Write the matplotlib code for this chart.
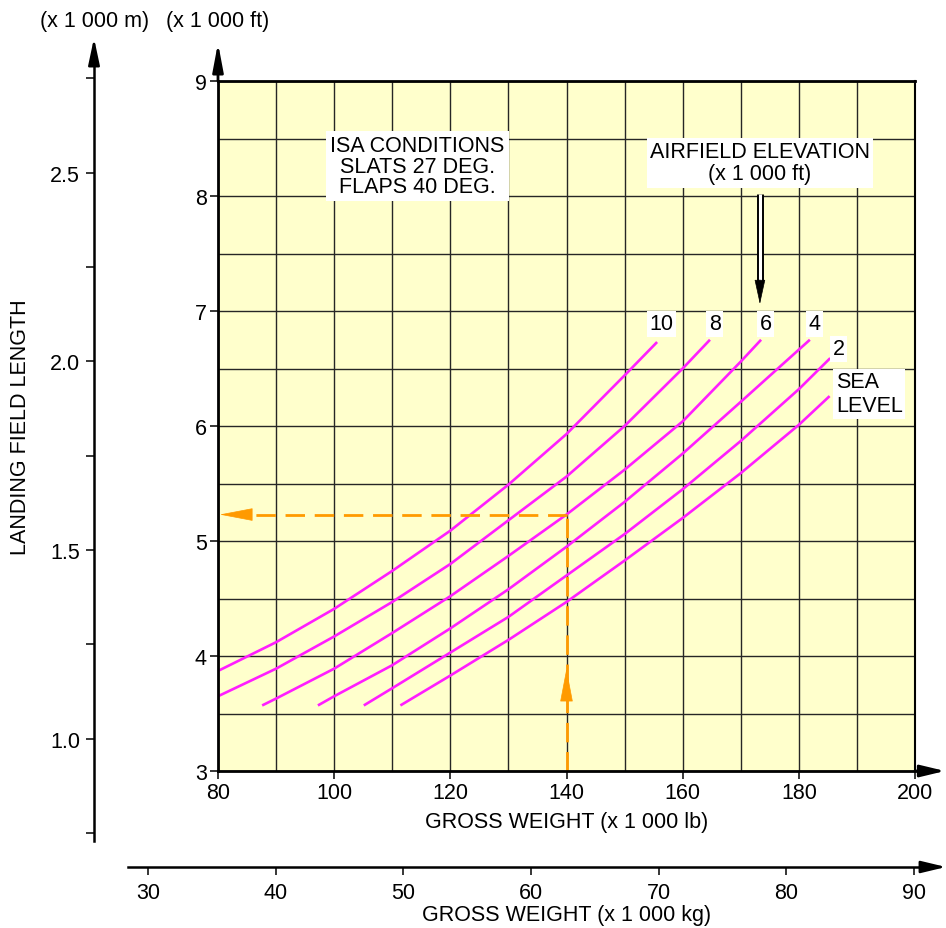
import numpy as np
import matplotlib
matplotlib.use("Agg")
import matplotlib.pyplot as plt

plt.rcParams['font.family'] = ['Liberation Sans', 'DejaVu Sans']
plt.rcParams['font.size'] = 15.5

# gross weight (x 1 000 lb) vs landing field length (x 1 000 ft)
w_10 = [80, 90, 100, 110, 120, 130, 140, 150, 155.6]
l_10 = [3.87, 4.12, 4.41, 4.74, 5.09, 5.49, 5.93, 6.44, 6.73]
w_8 = [80, 90, 100, 110, 120, 130, 140, 150, 160, 164.7]
l_8 = [3.65, 3.89, 4.17, 4.47, 4.80, 5.18, 5.56, 6.00, 6.50, 6.75]
w_6 = [87.6, 90, 100, 110, 120, 130, 140, 150, 160, 170, 173.5]
l_6 = [3.57, 3.63, 3.89, 4.20, 4.52, 4.87, 5.23, 5.62, 6.04, 6.56, 6.75]
w_4 = [97.2, 100, 110, 120, 130, 140, 150, 160, 170, 181.9]
l_4 = [3.57, 3.65, 3.92, 4.24, 4.58, 4.95, 5.34, 5.76, 6.21, 6.75]
w_2 = [105.1, 110, 120, 130, 140, 150, 160, 170, 180, 185.4]
l_2 = [3.57, 3.72, 4.03, 4.34, 4.70, 5.06, 5.45, 5.87, 6.32, 6.59]
w_sl = [111.4, 120, 130, 140, 150, 160, 170, 180, 185.3]
l_sl = [3.57, 3.83, 4.14, 4.47, 4.83, 5.20, 5.59, 6.01, 6.26]

curves = [(w_10, l_10, "10"), (w_8, l_8, "8"), (w_6, l_6, "6"),
          (w_4, l_4, "4"), (w_2, l_2, "2"), (w_sl, l_sl, "SEA\nLEVEL")]

# worked example (orange)
ex_weight = 140
ex_length = 5.23

lb_ticks = [80, 100, 120, 140, 160, 180, 200]
ft_ticks = [3, 4, 5, 6, 7, 8, 9]
m_ticks = [1.0, 1.5, 2.0, 2.5]
m_minor = [0.75, 1.25, 1.75, 2.25, 2.75]
kg_ticks = [30, 40, 50, 60, 70, 80, 90]
FT_TO_M = 0.3048

W, H = 946, 929
MAGENTA = '#FF1EFF'
ORANGE = '#FF9A00'
YELLOW = '#FFFFCC'


def box(l, t, r, b):
    return [l / W, 1 - b / H, (r - l) / W, (b - t) / H]


def head(axx, p0, p1, coords, color='black', hl=1.7, hw=0.32, lw=1.8):
    axx.annotate('', xy=p1, xytext=p0, xycoords=coords, textcoords=coords,
                 annotation_clip=False,
                 arrowprops=dict(arrowstyle=f'-|>,head_length={hl},head_width={hw}',
                                 color=color, lw=lw, shrinkA=0, shrinkB=0,
                                 mutation_scale=10))


fig = plt.figure(figsize=(W / 100, H / 100), dpi=100)

# main chart
top, bot = 82, 772
ax = fig.add_axes(box(218, top, 915, bot))
ax.set_xlim(80, 200)
ax.set_ylim(3, 9)
ax.set_facecolor(YELLOW)
ax.set_xticks(lb_ticks)
ax.set_xticks(np.arange(80, 201, 10), minor=True)
ax.set_yticks(ft_ticks)
ax.set_yticks(np.arange(3, 9.01, 0.5), minor=True)
ax.set_axisbelow(True)
ax.grid(which='both', color='#262626', lw=1.0)
ax.tick_params(which='minor', length=0)
ax.tick_params(which='major', length=6, width=1.1, pad=2, labelsize=15.5)
for s in ['left', 'bottom', 'top']:
    ax.spines[s].set_linewidth(2.0)
ax.spines['right'].set_linewidth(1.5)

for w, l, name in curves:
    ax.plot(w, l, color=MAGENTA, lw=1.9, solid_capstyle='butt')

# curve labels
lbl = dict(ha='center', va='center',
           bbox=dict(boxstyle='square,pad=0.12', fc='white', ec='none'))
for w, l, name in curves[:4]:
    ax.text(w[-1] + 0.8, 6.89, name, **lbl)
ax.text(w_2[-1] + 1.5, l_2[-1] + 0.08, "2", **lbl)
ax.text(w_sl[-1] + 1.1, l_sl[-1] + 0.02, "SEA\nLEVEL", ha='left', va='center',
        linespacing=1.2,
        bbox=dict(boxstyle='square,pad=0.12', fc='white', ec='none'))

ax.text(114.3, 8.26, "ISA CONDITIONS\nSLATS 27 DEG.\nFLAPS 40 DEG.",
        ha='center', va='center', linespacing=0.95,
        bbox=dict(boxstyle='square,pad=0.2', fc='white', ec='none'))
ax.text(173.3, 8.29, "AIRFIELD ELEVATION\n(x 1 000 ft)",
        ha='center', va='center', linespacing=1.1,
        bbox=dict(boxstyle='square,pad=0.15', fc='white', ec='none'))

# elevation arrow: hollow shaft, black head
ax.plot([173.3, 173.3], [8.02, 7.25], color='black', lw=5.0, solid_capstyle='butt')
ax.plot([173.3, 173.3], [8.015, 7.24], color='white', lw=2.2, solid_capstyle='butt')
head(ax, (173.3, 7.27), (173.3, 7.06), 'data', hl=1.6, hw=0.35, lw=0.5)

# worked example
dash = dict(color=ORANGE, lw=2.0, dashes=(7, 3.5))
ax.plot([ex_weight, ex_weight], [3, ex_length], **dash)
ax.plot([ex_weight, 85], [ex_length, ex_length], **dash)
head(ax, (ex_weight, 3.62), (ex_weight, 3.89), 'data', color=ORANGE,
     hl=2.2, hw=0.42, lw=0.5)
head(ax, (85.4, ex_length), (80.3, ex_length), 'data', color=ORANGE,
     hl=2.2, hw=0.42, lw=0.5)

# axis arrows
head(ax, (0, 1), (0, 1 + 38 / 690), 'axes fraction', lw=2.0, hl=1.7, hw=0.32)
head(ax, (1, 0), (1 + 30 / 697, 0), 'axes fraction', lw=2.0, hl=1.5, hw=0.36)


def ft_at(py):
    return 3 + (bot - py) / (bot - top) * 6


# metre scale
m_top, m_bot = 65, 842
ax_m = fig.add_axes(box(94, m_top, 95, m_bot))
ax_m.set_ylim(ft_at(m_bot) * FT_TO_M, ft_at(m_top) * FT_TO_M)
ax_m.patch.set_visible(False)
for s in ['right', 'top', 'bottom']:
    ax_m.spines[s].set_visible(False)
ax_m.spines['left'].set_linewidth(1.8)
ax_m.set_xticks([])
ax_m.set_yticks(m_ticks)
ax_m.set_yticklabels([f"{v:.1f}" for v in m_ticks])
ax_m.set_yticks(m_minor, minor=True)
ax_m.tick_params(which='both', length=6, width=1.1, pad=4, labelsize=15.5)
head(ax_m, (0, 1), (0, 1 + 26 / 777), 'axes fraction', lw=1.8, hl=1.6, hw=0.34)

# kilogram scale
kg_l, kg_r = 128, 920
px_per_t = (914 - 148) / 60
ax_kg = fig.add_axes(box(kg_l, 866, kg_r, 868))
ax_kg.set_xlim(30 - (148 - kg_l) / px_per_t, 30 + (kg_r - 148) / px_per_t)
ax_kg.patch.set_visible(False)
for s in ['left', 'right', 'top']:
    ax_kg.spines[s].set_visible(False)
ax_kg.spines['bottom'].set_linewidth(1.8)
ax_kg.set_yticks([])
ax_kg.set_xticks(kg_ticks)
ax_kg.tick_params(length=6, width=1.1, pad=5, labelsize=15.5)
head(ax_kg, (1, 0), (1 + 26 / (kg_r - kg_l), 0), 'axes fraction', lw=1.8, hl=1.5, hw=0.36)

fig.text(95 / W, 1 - 22 / H, "(x 1 000 m)", ha='center', va='center')
fig.text(218 / W, 1 - 22 / H, "(x 1 000 ft)", ha='center', va='center')
fig.text(567 / W, 1 - 823 / H, "GROSS WEIGHT (x 1 000 lb)", ha='center', va='center')
fig.text(567 / W, 1 - 916 / H, "GROSS WEIGHT (x 1 000 kg)", ha='center', va='center')
fig.text(21 / W, 1 - 427 / H, "LANDING FIELD LENGTH", ha='center', va='center',
         rotation=90)

fig.savefig("out.png", dpi=100)
